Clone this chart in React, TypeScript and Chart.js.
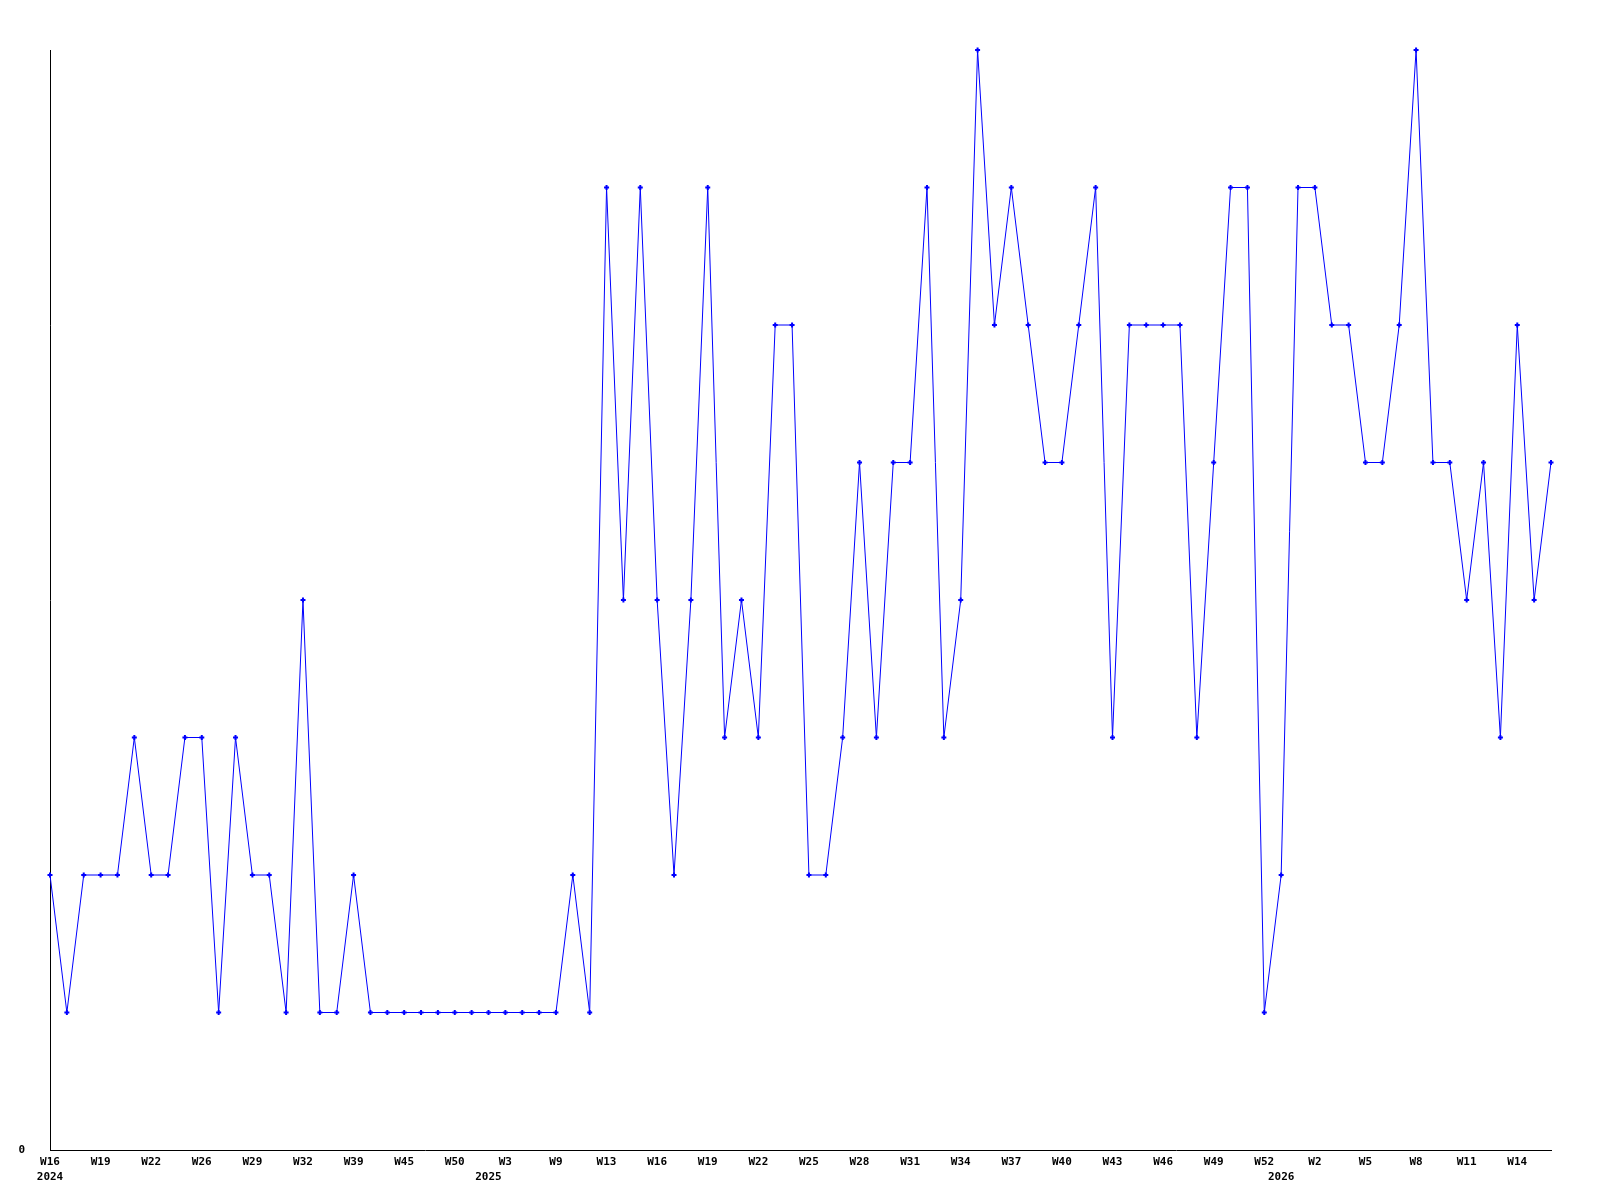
import React, { useEffect, useRef } from "react";
import { Chart, registerables } from "chart.js";

Chart.register(...registerables);

const weeks2024 = ["W16","W17","W18","W19","W20","W21","W22","W24","W25","W26","W27","W28","W29","W30","W31","W32","W35","W37","W39","W41","W43","W45","W47","W48","W50","W52"];
const weeks2025 = ["W1","W3","W5","W7","W9","W11","W12","W13","W14","W15","W16","W17","W18","W19","W20","W21","W22","W23","W24","W25","W26","W27","W28","W29","W30","W31","W32","W33","W34","W35","W36","W37","W38","W39","W40","W41","W42","W43","W44","W45","W46","W47","W48","W49","W50","W51","W52"];
const weeks2026 = ["W0","W1","W2","W3","W4","W5","W6","W7","W8","W9","W10","W11","W12","W13","W14","W15","W16"];
const yearNames = ["2024", "2025", "2026"];

const values = [
  2,1,2,2,2,3,2,2,3,3,
  1,3,2,2,1,4,1,1,2,1,
  1,1,1,1,1,1,1,1,1,1,
  1,2,1,7,4,7,4,2,4,7,
  3,4,3,6,6,2,2,3,5,3,
  5,5,7,3,4,8,6,7,6,5,
  5,6,7,3,6,6,6,6,3,5,
  7,7,1,2,7,7,6,6,5,5,
  6,8,5,5,4,5,3,6,4,5
];

const yTicks = [0];
const labelEvery = 3;

export default function App() {
  const ref = useRef<HTMLCanvasElement | null>(null);

  useEffect(() => {
    if (!ref.current) return;
    const segments = [weeks2024, weeks2025, weeks2026];
    const labels: string[] = [];
    const yearAt: string[] = [];
    segments.forEach((seg, s) => {
      seg.forEach((w, k) => {
        labels.push(w);
        yearAt.push(k === 0 ? yearNames[s] : "");
      });
    });
    const family = "'DejaVu Sans Mono', monospace";
    const chart = new Chart(ref.current, {
      type: "line",
      data: {
        labels,
        datasets: [
          {
            data: values,
            borderColor: "#0000ff",
            backgroundColor: "#0000ff",
            borderWidth: 1,
            tension: 0,
            pointStyle: "cross",
            pointRadius: 2.5,
            pointBorderWidth: 2,
            pointBorderColor: "#0000ff",
            pointBackgroundColor: "#0000ff",
            clip: false,
          },
        ],
      },
      options: {
        animation: false,
        responsive: false,
        events: [],
        layout: { padding: { left: 0, top: 50, right: 49, bottom: 0 } },
        plugins: { legend: { display: false }, tooltip: { enabled: false }, title: { display: false } },
        scales: {
          x: {
            type: "category",
            offset: false,
            grid: { display: false, drawTicks: false },
            border: { display: true, color: "#000000", width: 1 },
            afterFit: (scale: any) => {
              scale.height = 50;
            },
            ticks: {
              autoSkip: false,
              maxRotation: 0,
              minRotation: 0,
              padding: 5,
              color: "#000000",
              font: { family, size: 11, weight: "bold" as const, lineHeight: "14.5px" },
              callback: (_v: any, idx: number) => [idx % labelEvery === 0 ? labels[idx] : "", yearAt[idx]],
            },
          },
          y: {
            min: 0,
            max: 8,
            grid: { display: false, drawTicks: false },
            border: { display: true, color: "#000000", width: 1 },
            afterFit: (scale: any) => {
              scale.width = 50;
            },
            ticks: {
              stepSize: 1,
              padding: 25,
              color: "#000000",
              font: { family, size: 11, weight: "bold" as const },
              callback: (v: any) => (yTicks.includes(Number(v)) ? String(v) : ""),
            },
          },
        },
      },
    });
    return () => chart.destroy();
  }, []);

  return (
    <canvas
      ref={ref}
      width={1600}
      height={1200}
      style={{ position: "absolute", left: 0, top: 0, width: 1600, height: 1200, background: "#ffffff" }}
    />
  );
}
